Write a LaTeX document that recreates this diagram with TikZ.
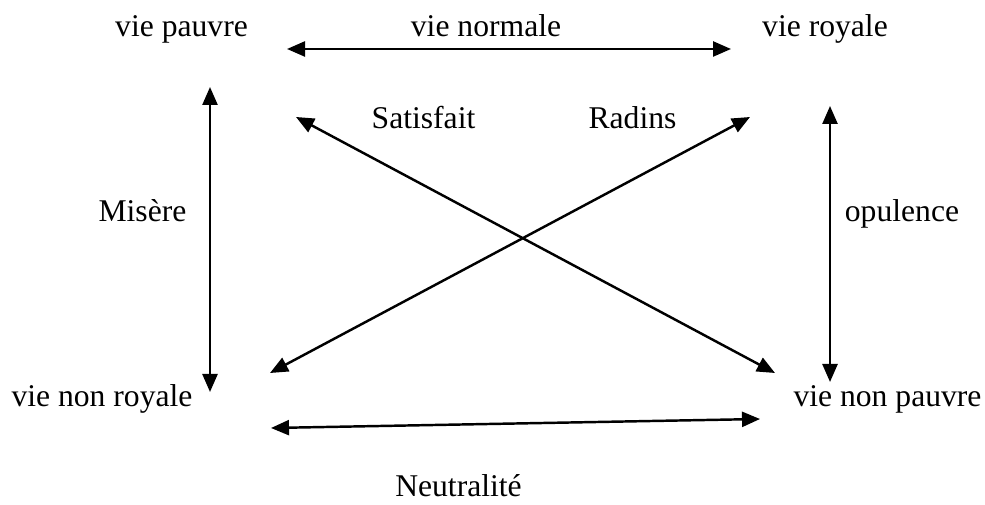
\documentclass[tikz,border=0pt]{standalone}
\usepackage{fontspec}
\setmainfont{Liberation Serif}
\newfontfamily\timesfont{Liberation Serif}
\usepackage{tikz}
\usetikzlibrary{arrows.meta,positioning}
\tikzset{
  >={Triangle[length=3.6mm,width=3mm]},
  % texter
  lbl/.style={anchor=base,inner sep=0pt,font=\timesfont\fontsize{18}{22}\selectfont},
  % pilar
  dbl/.style={<->,draw=black,line width=1.4pt},
}
\begin{document}
\begin{tikzpicture}
\useasboundingbox (0,0) rectangle (19.7,10.08);
  \node[lbl] (pauvre) at (3.63,9.34) {vie pauvre};
  \node[lbl] (normale) at (9.72,9.34) {vie normale};
  \node[lbl] (royale) at (16.5,9.34) {vie royale};
  \node[lbl] (satisf) at (8.47,7.5) {Satisfait};
  \node[lbl] (radins) at (12.65,7.5) {Radins};
  \node[lbl] (misere) at (2.85,5.64) {Misère};
  \node[lbl] (opul) at (18.04,5.64) {opulence};
  \node[lbl] (nonroy) at (2.04,1.94) {vie non royale};
  \node[lbl] (nonpau) at (17.75,1.94) {vie non pauvre};
  \node[lbl] (neutr) at (9.17,0.14) {Neutralité};
  % bouts des pilar
  \coordinate (tl) at (5.74,9.1);
  \coordinate (tr) at (14.62,9.1);
  \coordinate (lt) at (4.2,8.34);
  \coordinate (lb) at (4.2,2.24);
  \coordinate (rt) at (16.6,7.96);
  \coordinate (rb) at (16.6,2.44);
  \coordinate (d1a) at (5.92,7.74);
  \coordinate (d1b) at (15.5,2.62);
  \coordinate (d2a) at (15.0,7.74);
  \coordinate (d2b) at (5.4,2.62);
  \coordinate (bl) at (5.42,1.52);
  \coordinate (br) at (15.2,1.7);
  \draw[dbl] (tl) -- (tr);
  \draw[dbl] (lt) -- (lb);
  \draw[dbl] (rt) -- (rb);
  \draw[dbl] (d1a) -- (d1b);
  \draw[dbl] (d2a) -- (d2b);
  \draw[dbl] (bl) -- (br);
\end{tikzpicture}
\end{document}
